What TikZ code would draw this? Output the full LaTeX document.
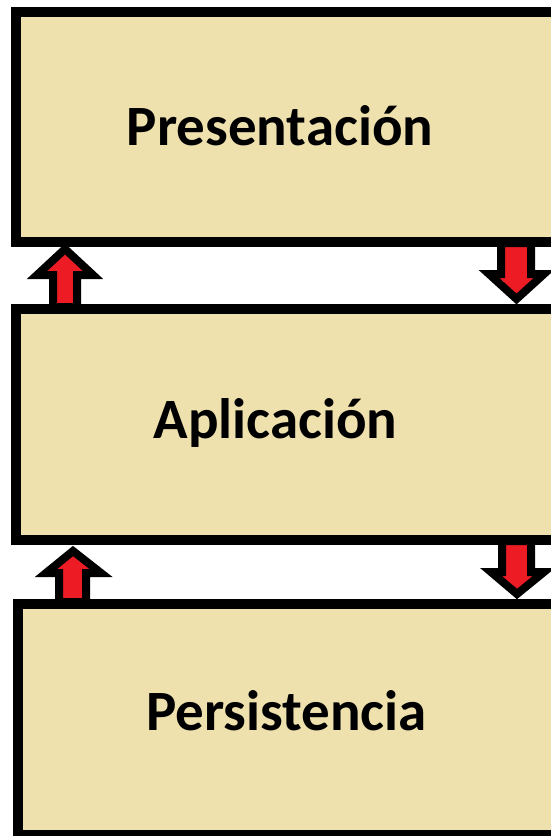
\documentclass[tikz,border=0pt]{standalone}
\usepackage{fontspec}
\setmainfont{Carlito}
\definecolor{boxfill}{RGB}{238,225,173}
\definecolor{arrred}{RGB}{237,28,36}
\begin{document}
\begin{tikzpicture}[x=1pt,y=-1pt,
  layerbox/.style={draw=black, fill=boxfill, line width=10pt, rectangle, inner sep=0pt, outer sep=0pt, anchor=north west, minimum width=542pt},
  layertext/.style={font=\fontsize{57}{64}\selectfont\bfseries, text=black, anchor=base, inner sep=0pt},
  blockarrow/.style={draw=black, fill=arrred, line width=8pt, line join=miter, miter limit=10}]
\useasboundingbox (0,0) rectangle (550,836);
\fill[white] (0,0) rectangle (550,836);
% layers
\node[layerbox, minimum height=230pt] (pres) at (16,12) {};
\node[layerbox, minimum height=231pt] (apli) at (16,309) {};
\node[layerbox, minimum height=231pt] (pers) at (18,604) {};
% labels
\node[layertext] (tpres) at (280,145) {Presentación};
\node[layertext] (tapli) at (275.5,438) {Aplicación};
\node[layertext] (tpers) at (286.5,730) {Persistencia};
% arrows between layers
\draw[blockarrow] (65,249) -- (93,275) -- (77,275) -- (77,307) -- (53,307) -- (53,275) -- (37,275) -- cycle;
\draw[blockarrow] (516.5,299) -- (544,274) -- (531,274) -- (531,243) -- (501,243) -- (501,274) -- (489,274) -- cycle;
\draw[blockarrow] (73,551) -- (101,573) -- (86,573) -- (86,602) -- (59,602) -- (59,573) -- (46,573) -- cycle;
\draw[blockarrow] (517,594) -- (544,572) -- (531,572) -- (531,541) -- (502,541) -- (502,572) -- (491,572) -- cycle;
\end{tikzpicture}
\end{document}
